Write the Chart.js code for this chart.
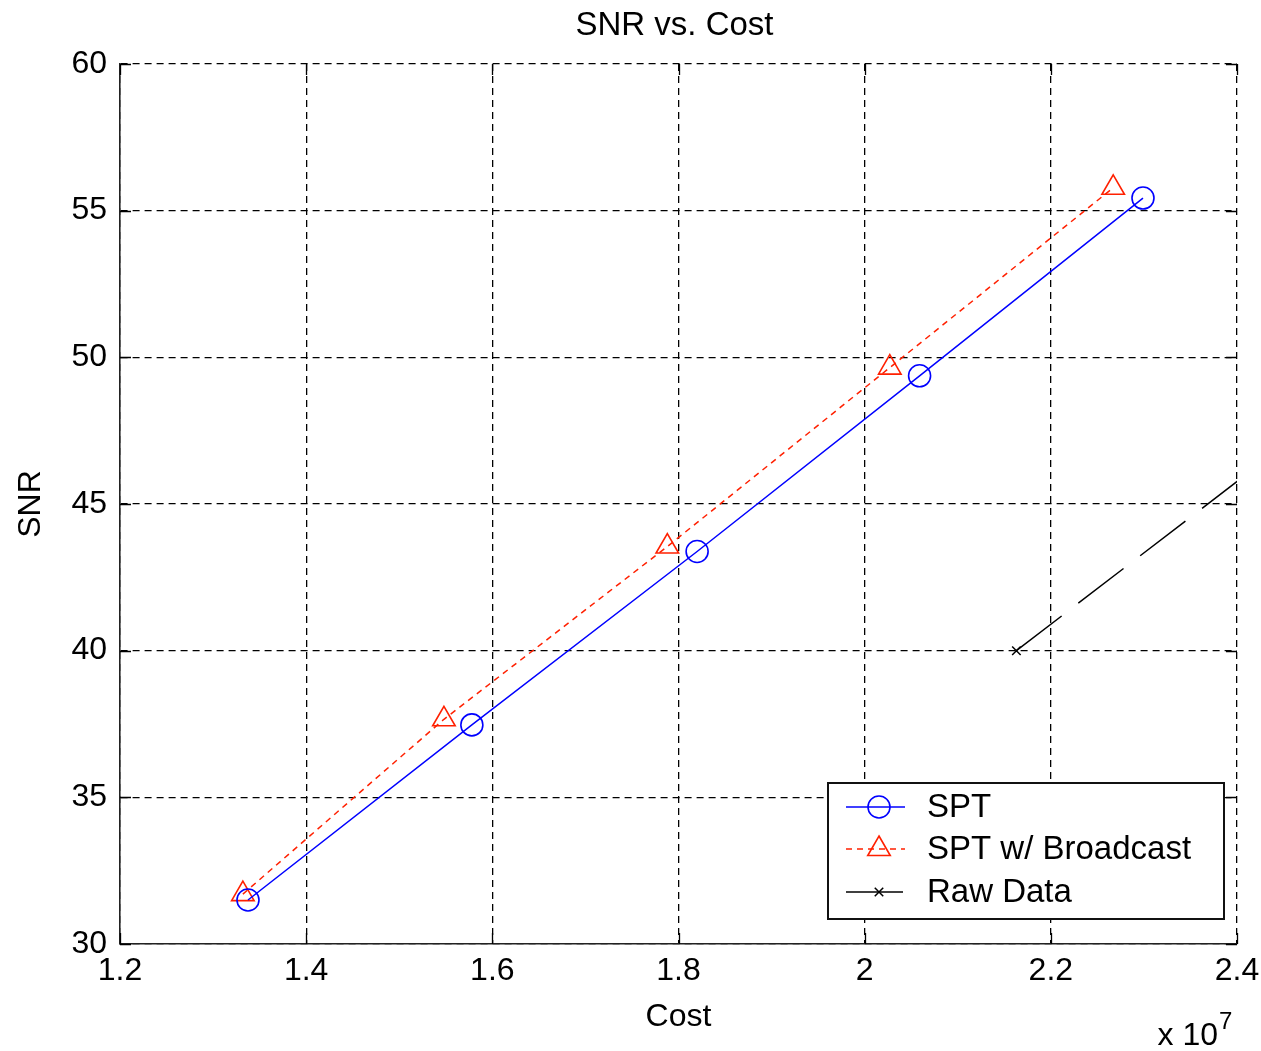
<!DOCTYPE html>
<html>
<head>
<meta charset="utf-8">
<title>SNR vs. Cost</title>
<script src="https://cdn.jsdelivr.net/npm/chart.js@4.4.1/dist/chart.umd.min.js"></script>
<style>
    html, body { margin: 0; padding: 0; background: #fff; }
    #wrap { width: 1261px; height: 1051px; }
</style>
</head>
<body>
<div id="wrap"><canvas id="snrChart" width="1261" height="1051"></canvas></div>
<script>
// Cost values are raw (axis shows them scaled by 10^7)
const costSPT = [1.3375e7, 1.578e7, 1.820e7, 2.059e7, 2.299e7];
const snrSPT = [31.50, 37.47, 43.38, 49.37, 55.43];

const costBroadcast = [1.332e7, 1.548e7, 1.788e7, 2.027e7, 2.267e7];
const snrBroadcast = [31.70, 37.66, 43.55, 49.65, 55.78];

// raw data line runs off the right edge of the axes
const costRaw = [2.163e7, 2.5e7];
const snrRaw = [40.0, 48.2];

const xTickValues = [1.2e7, 1.4e7, 1.6e7, 1.8e7, 2.0e7, 2.2e7, 2.4e7];
const xTickLabels = ['1.2', '1.4', '1.6', '1.8', '2', '2.2', '2.4'];
const yTickValues = [30, 35, 40, 45, 50, 55, 60];
const yTickLabels = ['30', '35', '40', '45', '50', '55', '60'];

const FONT = "'Liberation Sans', Arial, sans-serif";
Chart.defaults.font.family = FONT;
Chart.defaults.color = '#000';

function toPoints(xs, ys) {
    return xs.map((x, i) => ({ x, y: ys[i] }));
}

// MATLAB-style tick marks pointing into the axes box
const innerTicks = {
    id: 'innerTicks',
    beforeDatasetsDraw(chart) {
        const { ctx, chartArea: a, scales } = chart;
        const len = 11;
        ctx.save();
        ctx.strokeStyle = '#000';
        ctx.lineWidth = 1.3;
        ctx.beginPath();
        xTickValues.forEach(v => {
            const px = Math.round(scales.x.getPixelForValue(v)) + 0.5;
            ctx.moveTo(px, a.bottom); ctx.lineTo(px, a.bottom - len);
            ctx.moveTo(px, a.top); ctx.lineTo(px, a.top + len);
        });
        yTickValues.forEach(v => {
            const py = Math.round(scales.y.getPixelForValue(v)) + 0.5;
            ctx.moveTo(a.left, py); ctx.lineTo(a.left + len, py);
            ctx.moveTo(a.right, py); ctx.lineTo(a.right - len, py);
        });
        ctx.stroke();
        ctx.restore();
    }
};

// title, boxed legend in the lower right corner and the "x 10^7" exponent
const boxLegend = {
    id: 'boxLegend',
    afterDraw(chart) {
        const { ctx, chartArea: a } = chart;
        ctx.save();
        ctx.fillStyle = '#000';
        ctx.font = '33px ' + FONT;
        ctx.textAlign = 'center';
        ctx.textBaseline = 'middle';
        ctx.fillText('SNR vs. Cost', (a.left + a.right) / 2 - 4, 26);

        const boxW = 396, boxH = 136;
        const x0 = a.right - 13 - boxW;
        const y0 = a.bottom - 25 - boxH;
        ctx.fillStyle = '#fff';
        ctx.fillRect(x0, y0, boxW, boxH);
        ctx.strokeStyle = '#111';
        ctx.lineWidth = 2;
        ctx.setLineDash([]);
        ctx.strokeRect(x0, y0, boxW, boxH);

        const rows = [24, 66, 109];
        chart.data.datasets.forEach((ds, i) => {
            const y = y0 + rows[i];
            ctx.strokeStyle = ds.borderColor;
            ctx.lineWidth = ds.borderWidth;
            ctx.setLineDash(ds.borderDash || []);
            ctx.beginPath();
            ctx.moveTo(x0 + 18, y);
            ctx.lineTo(x0 + 77, y);
            ctx.stroke();
            ctx.setLineDash([]);
            ctx.fillStyle = 'rgba(0,0,0,0)';
            ctx.lineWidth = ds.pointBorderWidth;
            Chart.helpers.drawPoint(ctx, {
                pointStyle: ds.pointStyle,
                radius: ds.pointRadius,
                rotation: 0,
                borderWidth: ds.pointBorderWidth
            }, x0 + 51, y);
            ctx.fillStyle = '#000';
            ctx.font = '33px ' + FONT;
            ctx.textAlign = 'left';
            ctx.textBaseline = 'middle';
            ctx.fillText(ds.label, x0 + 99, y + 1);
        });

        ctx.fillStyle = '#000';
        ctx.textAlign = 'right';
        ctx.textBaseline = 'alphabetic';
        ctx.font = '32px ' + FONT;
        ctx.fillText('x 10', 1218, 1045);
        ctx.textAlign = 'left';
        ctx.font = '24px ' + FONT;
        ctx.fillText('7', 1219, 1029);
        ctx.restore();
    }
};

new Chart(document.getElementById('snrChart'), {
    type: 'scatter',
    data: {
        datasets: [
            {
                label: 'SPT',
                data: toPoints(costSPT, snrSPT),
                showLine: true,
                borderColor: '#0000ff',
                borderWidth: 1.5,
                pointStyle: 'circle',
                pointRadius: 11,
                pointBorderWidth: 1.6,
                pointBorderColor: '#0000ff',
                pointBackgroundColor: 'rgba(0,0,0,0)',
                tension: 0
            },
            {
                label: 'SPT w/ Broadcast',
                data: toPoints(costBroadcast, snrBroadcast),
                showLine: true,
                borderColor: '#ff2000',
                borderWidth: 1.5,
                borderDash: [6, 5],
                pointStyle: 'triangle',
                pointRadius: 13,
                pointBorderWidth: 1.6,
                pointBorderColor: '#ff2000',
                pointBackgroundColor: 'rgba(0,0,0,0)',
                tension: 0
            },
            {
                label: 'Raw Data',
                data: toPoints(costRaw, snrRaw),
                showLine: true,
                borderColor: '#000',
                borderWidth: 1.5,
                borderDash: [57, 21],
                pointStyle: 'crossRot',
                pointRadius: 6,
                pointBorderWidth: 1.5,
                pointBorderColor: '#000',
                pointBackgroundColor: 'rgba(0,0,0,0)',
                tension: 0
            }
        ]
    },
    options: {
        responsive: false,
        animation: false,
        devicePixelRatio: 1,
        layout: { padding: { left: 0, right: 0, top: 64, bottom: 0 } },
        plugins: {
            legend: { display: false },
            tooltip: { enabled: false },
            title: { display: false }
        },
        scales: {
            x: {
                type: 'linear',
                min: 1.2e7,
                max: 2.4e7,
                afterBuildTicks: s => { s.ticks = xTickValues.map(v => ({ value: v })); },
                afterFit: s => { s.height = 107; s.paddingRight = 24; },
                ticks: {
                    autoSkip: false,
                    maxRotation: 0,
                    padding: 8,
                    font: { size: 32 },
                    color: '#000',
                    callback: v => xTickLabels[xTickValues.indexOf(v)]
                },
                grid: { color: '#000', lineWidth: 1.3, drawTicks: false },
                border: { display: true, color: '#222', width: 1.6, dash: [7, 5] },
                title: {
                    display: true,
                    text: 'Cost',
                    color: '#000',
                    font: { size: 32 },
                    padding: { top: 0, bottom: 15 }
                }
            },
            y: {
                type: 'linear',
                min: 30,
                max: 60,
                afterBuildTicks: s => { s.ticks = yTickValues.map(v => ({ value: v })); },
                afterFit: s => { s.width = 120; },
                ticks: {
                    autoSkip: false,
                    padding: 13,
                    font: { size: 32 },
                    color: '#000',
                    callback: v => yTickLabels[yTickValues.indexOf(v)]
                },
                grid: { color: '#000', lineWidth: 1.3, drawTicks: false },
                border: { display: true, color: '#222', width: 1.6, dash: [7, 5] },
                title: {
                    display: true,
                    text: 'SNR',
                    color: '#000',
                    font: { size: 32 },
                    padding: { top: 12, bottom: 0 }
                }
            }
        }
    },
    plugins: [innerTicks, boxLegend]
});
</script>
</body>
</html>
